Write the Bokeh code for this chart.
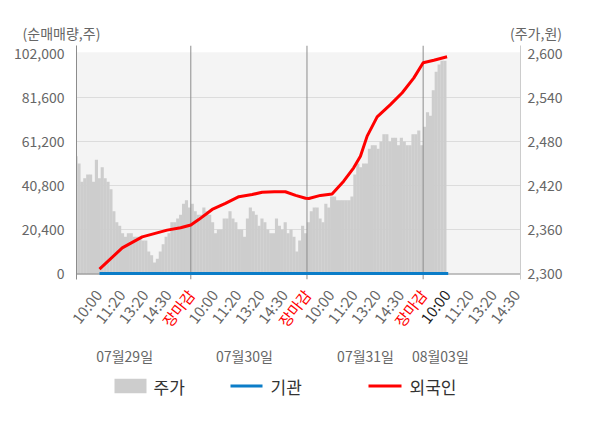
from bokeh.plotting import figure
from bokeh.layouts import column, row
from bokeh.models import (Range1d, LinearAxis, FixedTicker, NumeralTickFormatter,
                          ColumnDataSource)
from bokeh.core.properties import value
from bokeh.embed import file_html
from bokeh.resources import INLINE

FONT = "Noto Sans CJK KR"

# ---------------- data ----------------
time_labels = ["10:00", "11:20", "13:20", "14:30", "장마감"]
dates = ["07월29일", "07월30일", "07월31일", "08월03일"]
date_pos = [2.15, 7.31, 12.52, 15.74]

slots_per_day = 40
price_day1 = [2460, 2450, 2425, 2430, 2435, 2435, 2425, 2455, 2430, 2445,
              2430, 2425, 2415, 2385, 2370, 2365, 2355, 2350, 2355, 2355,
              2350, 2350, 2350, 2345, 2345, 2330, 2325, 2315, 2320, 2330,
              2340, 2350, 2355, 2370, 2370, 2375, 2380, 2395, 2400, 2390]
price_day2 = [2395, 2385, 2380, 2380, 2390, 2385, 2380, 2370, 2355, 2360,
              2360, 2375, 2375, 2385, 2375, 2370, 2360, 2360, 2350, 2375,
              2390, 2385, 2380, 2365, 2375, 2370, 2360, 2355, 2355, 2375,
              2365, 2360, 2370, 2355, 2360, 2350, 2330, 2345, 2365, 2355]
price_day3 = [2370, 2385, 2390, 2390, 2375, 2370, 2395, 2390, 2405, 2405,
              2400, 2400, 2400, 2400, 2400, 2405, 2435, 2450, 2445, 2450,
              2450, 2470, 2475, 2475, 2470, 2480, 2490, 2490, 2480, 2485,
              2485, 2475, 2485, 2480, 2475, 2475, 2490, 2490, 2495, 2475]
price_day4 = [2500, 2520, 2515, 2550, 2575, 2585, 2590, 2590]
price_days = [price_day1, price_day2, price_day3, price_day4]

foreign_t = [1.07, 2.05, 2.91, 3.98, 4.56, 5.0, 5.34, 5.92, 6.49, 7.07,
             7.64, 8.07, 8.6, 9.07, 9.51, 9.94, 10.08, 10.58, 11.08, 11.58,
             12.01, 12.3, 12.59, 13.02, 13.59, 14.1, 14.6, 15.0, 15.46, 16.03]
foreign_v = [2000, 11900, 17000, 20100, 21200, 22500, 25000, 29700, 32500, 35600,
             36600, 37700, 37900, 37900, 36200, 34900, 34800, 36200, 36900, 42800,
             49000, 54400, 63700, 72600, 78300, 83800, 90700, 97700, 98900, 100500]
inst_t = [1.07, 5.0, 10.0, 15.0, 16.08]
inst_v = [0, 0, 0, 0, 0]

left_ticks = [0, 20400, 40800, 61200, 81600, 102000]
right_ticks = [2300, 2360, 2420, 2480, 2540, 2600]

legend_names = ["주가", "기관", "외국인"]
legend_colors = ["#cdcdcd", "#0b7dc8", "#ff0000"]

# ---------------- geometry (pixels) ----------------
W, H = 600, 428
TOP_H = 43                      # strip holding the axis titles
FRAME_L, FRAME_R = 76, 520
FRAME_T, FRAME_B = 45, 279      # frame incl. 5px stub below the x baseline
ZERO_PX = 273                   # pixel row of value 0 / 2,300
BASE_PX = 274                   # x baseline row
MAIN_TOP_B = FRAME_T - TOP_H
MAIN_BOT_B = 5
MAIN_H = MAIN_TOP_B + (FRAME_B - FRAME_T) + MAIN_BOT_B
BOT_Y = TOP_H + MAIN_H
BOT_H = H - BOT_Y

vpp = 20400 / 44.0              # volume per pixel
ppp = 60 / 44.0                 # price per pixel
Y0 = -(FRAME_B - ZERO_PX) * vpp
Y1 = (ZERO_PX - FRAME_T) * vpp
P0 = 2300 - (FRAME_B - ZERO_PX) * ppp
P1 = 2300 + (ZERO_PX - FRAME_T) * ppp
YB = -(BASE_PX - ZERO_PX) * vpp     # baseline in volume units
PB = 2300 - (BASE_PX - ZERO_PX) * ppp
X0, X1 = 0.08, 19.19

# ---------------- top strip (axis titles) ----------------
top = figure(width=W, height=TOP_H, x_range=Range1d(0, W), y_range=Range1d(0, TOP_H),
             output_backend="svg", toolbar_location=None, x_axis_type=None, y_axis_type=None,
             min_border=0, min_border_left=0, min_border_right=0, min_border_top=0,
             min_border_bottom=0, outline_line_color=None, background_fill_color="white",
             border_fill_color="white")
top.text(x=[61, 535.5], y=[TOP_H - 32, TOP_H - 32], text=["(순매매량,주)", "(주가,원)"],
         text_font=value(FONT), text_font_size=value("14px"), text_color="#666666",
         text_align="center", text_baseline="middle")

# ---------------- main chart ----------------
p = figure(width=W, height=MAIN_H, x_range=Range1d(X0, X1), y_range=Range1d(Y0, Y1),
           x_axis_type=None,
           output_backend="svg", toolbar_location=None,
           min_border_left=FRAME_L, min_border_right=W - FRAME_R, min_border_top=MAIN_TOP_B,
           min_border_bottom=MAIN_BOT_B,
           background_fill_color="white", border_fill_color="white", outline_line_color=None)
p.extra_y_ranges = {"price": Range1d(P0, P1)}

p.quad(left=[X0], right=[X1], bottom=[YB], top=[102600], fill_color="#f4f4f4",
       line_color=None, level="image")

p.ygrid.ticker = FixedTicker(ticks=left_ticks[1:-1])
p.ygrid.grid_line_color = "#dcdcdc"

bx, bp = [], []
for d, vals in enumerate(price_days):
    for j, v in enumerate(vals):
        bx.append(d * 5 + (j + 0.5) * 5 / slots_per_day)
        bp.append(v)
bars = p.vbar(x=bx, top=bp, bottom=PB, width=5 / slots_per_day * 1.08,
              y_range_name="price", fill_color="#cdcdcd", line_color=None)

# day separators (run down to the stub below the baseline)
p.segment(x0=[5, 10, 15], y0=Y0, x1=[5, 10, 15], y1=Y1, line_color="#8c8c8c", line_width=1)
# x baseline
p.segment(x0=[X0], y0=[YB / 2], x1=[X1], y1=[YB / 2], line_color="#8c8c8c", line_width=1)

p.line(inst_t, inst_v, line_color="#0b7dc8", line_width=3)
p.line(foreign_t, foreign_v, line_color="#ff0000", line_width=3)

yl = p.yaxis[0]
yl.ticker = FixedTicker(ticks=left_ticks)
yl.formatter = NumeralTickFormatter(format="0,0")
yl.major_tick_out = 0
yl.major_tick_in = 0
yl.minor_tick_out = 0
yl.minor_tick_in = 0
yl.axis_line_color = "#8c8c8c"
yl.major_label_text_color = "#666666"
yl.major_label_text_font = FONT
yl.major_label_text_font_size = "14px"
yl.major_label_standoff = 12

yr = LinearAxis(y_range_name="price")
yr.ticker = FixedTicker(ticks=right_ticks)
yr.formatter = NumeralTickFormatter(format="0,0")
yr.major_tick_out = 0
yr.major_tick_in = 0
yr.minor_tick_out = 0
yr.minor_tick_in = 0
yr.axis_line_color = "#cccccc"
yr.major_label_text_color = "#666666"
yr.major_label_text_font = FONT
yr.major_label_text_font_size = "14px"
yr.major_label_standoff = 7
p.add_layout(yr, "right")

# ---------------- bottom strip (time labels, dates, legend) ----------------
s = (X1 - X0) / (FRAME_R - FRAME_L)
bot = figure(width=W, height=BOT_H,
             x_range=Range1d(X0 - FRAME_L * s, X1 + (W - FRAME_R) * s),
             y_range=Range1d(0, BOT_H),
             output_backend="svg", toolbar_location=None, x_axis_type=None, y_axis_type=None,
             min_border=0, min_border_left=0, min_border_right=0, min_border_top=0,
             min_border_bottom=0, outline_line_color=None, background_fill_color="white",
             border_fill_color="white")
bot.extra_x_ranges = {"px": Range1d(0, W)}

def by(sy):
    return H - sy

tk_x, tk_t, tk_c = [], [], []
for i in range(1, 20):
    lab = time_labels[(i - 1) % 5]
    tk_x.append(i)
    tk_t.append(lab)
    if lab == "장마감":
        tk_c.append("#ff0000")
    elif i == 16:
        tk_c.append("#222222")
    else:
        tk_c.append("#666666")
tsrc = ColumnDataSource(dict(x=tk_x, y=[by(291)] * len(tk_x), t=tk_t, c=tk_c))
bot.text(x="x", y="y", text="t", text_color="c", source=tsrc, angle=0.91,
         text_font=value(FONT), text_font_size=value("15px"),
         text_align="right", text_baseline="middle")

bot.text(x=date_pos, y=[by(355)] * len(date_pos), text=dates,
         text_font=value(FONT), text_font_size=value("14px"), text_color="#666666",
         text_align="center", text_baseline="middle")

LY = by(385.5)
bot.quad(left=[114], right=[146], bottom=[LY - 7.2], top=[LY + 7.2],
         fill_color=legend_colors[0], line_color=None, x_range_name="px")
bot.segment(x0=[230, 368], y0=[LY, LY], x1=[262, 401], y1=[LY, LY],
            line_color=legend_colors[1:], line_width=3, x_range_name="px")
bot.text(x=[153, 270, 409], y=[LY] * 3, text=legend_names, x_range_name="px",
         text_font=value(FONT), text_font_size=value("17px"), text_color="#333333",
         text_align="left", text_baseline="middle")

layout = column(row(top), p, row(bot), spacing=0)
open("out.html", "w").write(file_html(layout, INLINE))
